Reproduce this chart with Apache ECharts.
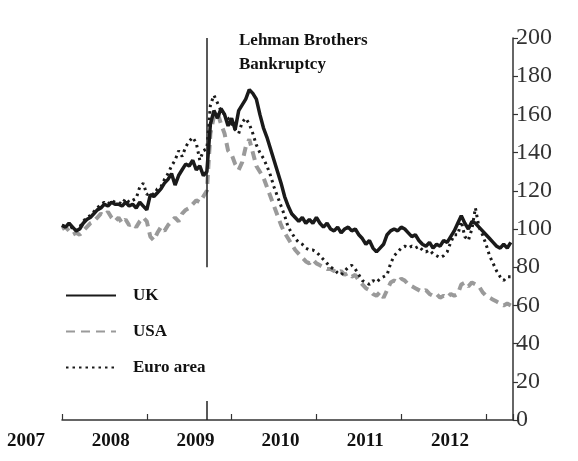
<!DOCTYPE html>
<html><head><meta charset="utf-8">
<script src="https://cdn.jsdelivr.net/npm/echarts@6/dist/echarts.min.js"></script>
<style>html,body{margin:0;padding:0;background:#fff}#c{width:578px;height:461px}</style>
</head><body><div id="c"></div>
<script>
// Half-monthly readings, Jan 2007 -> Apr 2012 (index 100 = start)
const ukValues = [102,101,103,101,99,100,103,105,106,108,110,111,113,112,114,113,113,112,114,112,
  113,111,114,112,110,118,117,119,121,124,126,129,123,128,131,134,133,136,131,133,
  128,130,155,162,158,163,160,154,158,152,162,165,168,173,171,168,160,153,148,142,
  136,130,124,117,112,108,106,104,106,103,105,103,106,103,101,103,100,99,101,98,
  100,101,99,100,97,95,92,94,90,88,90,92,97,99,100,99,101,100,98,96,
  97,94,92,91,93,90,92,91,94,93,96,99,103,107,103,100,104,103,101,99,
  97,95,93,91,90,92,90,93];
const usaValues = [100,101,99,97,98,97,99,101,103,104,106,108,107,109,106,104,106,103,105,102,
  103,101,104,106,104,96,94,98,101,99,102,104,106,104,108,110,111,113,115,114,
  117,120,150,159,161,155,150,141,139,134,131,135,143,147,140,133,130,127,122,117,
  112,107,102,98,95,92,89,87,85,83,82,84,82,81,80,79,79,78,77,78,
  76,77,75,76,73,71,69,68,66,65,67,64,68,72,73,72,74,73,71,70,
  69,68,67,68,66,65,66,64,65,64,66,65,66,71,72,70,72,71,70,67,
  65,64,63,62,61,60,61,60];
const euroValues = [102,101,103,100,99,101,104,106,107,109,111,113,114,113,115,114,114,113,116,114,
  115,116,122,124,118,119,118,121,122,126,129,133,136,141,138,143,146,148,145,136,
  141,142,165,170,166,162,160,158,155,152,150,156,158,155,150,144,140,137,133,128,
  122,117,112,107,101,98,95,93,92,90,89,89,88,86,84,82,80,79,77,76,
  78,80,81,79,76,73,72,71,73,72,74,75,76,82,86,88,90,91,90,91,
  90,91,89,88,89,87,86,85,86,88,93,97,97,104,96,94,100,111,101,97,
  92,86,82,78,75,73,75,75];
const yearLabels = [2007, 2008, 2009, 2010, 2011, 2012];
const lehmanDate = 2008.705;   // 15 Sep 2008
const yTicks = {min: 0, max: 200, step: 20};

const xOf = i => 2007 + i / 24;
const toPairs = arr => arr.map((v, i) => [xOf(i), v]);

const serif = 'Liberation Serif';
const chart = echarts.init(document.getElementById('c'), null, {renderer: 'canvas'});
chart.setOption({
  animation: false,
  backgroundColor: '#fff',
  grid: {left: 62, right: 65, top: 38, bottom: 41},
  title: {
    text: 'Lehman Brothers\nBankruptcy',
    left: 234, top: 24,
    textStyle: {fontFamily: serif, fontWeight: 'bold', fontSize: 17, color: '#111', lineHeight: 24}
  },
  legend: {
    data: ['UK', 'USA', 'Euro area'],
    orient: 'vertical', left: 60, top: 282,
    itemWidth: 50, itemHeight: 14, itemGap: 19,
    itemStyle: {opacity: 0},
    textStyle: {fontFamily: serif, fontWeight: 'bold', fontSize: 17, color: '#111', padding: [0, 0, 0, 12]}
  },
  xAxis: {
    type: 'value', min: 2007, max: 2012.318, interval: 1,
    splitLine: {show: false},
    axisLine: {lineStyle: {color: '#333', width: 1.5}},
    axisTick: {inside: true, length: 6, lineStyle: {color: '#333', width: 1.2}},
    axisLabel: {
      formatter: v => (yearLabels.indexOf(Math.round(v)) >= 0 && Math.abs(v - Math.round(v)) < 1e-6) ? String(Math.round(v)) : '',
      fontFamily: serif, fontWeight: 'bold', fontSize: 19, color: '#111',
      margin: 12, padding: [0, 72, 0, 0]
    }
  },
  yAxis: {
    type: 'value', position: 'right', min: yTicks.min, max: yTicks.max, interval: yTicks.step,
    splitLine: {show: false},
    axisLine: {show: true, lineStyle: {color: '#333', width: 1.5}},
    axisTick: {show: true, inside: false, length: 5, lineStyle: {color: '#333', width: 1.2}},
    axisLabel: {fontFamily: serif, fontSize: 24, color: '#333', margin: 3}
  },
  series: [
    {
      name: 'UK', type: 'line', symbol: 'none', data: toPairs(ukValues), z: 4,
      lineStyle: {color: '#1a1a1a', width: 3.5},
      itemStyle: {color: '#1a1a1a'},
      markLine: {
        silent: true, symbol: 'none', label: {show: false},
        lineStyle: {color: '#222', width: 1.5, type: 'solid'},
        data: [
          [{coord: [lehmanDate, 200]}, {coord: [lehmanDate, 80]}],
          [{coord: [lehmanDate, 0]}, {coord: [lehmanDate, 10]}]
        ]
      }
    },
    {
      name: 'USA', type: 'line', symbol: 'none', data: toPairs(usaValues), z: 2,
      lineStyle: {color: '#9a9a9a', width: 4, type: [9, 6]},
      itemStyle: {color: '#9a9a9a'}
    },
    {
      name: 'Euro area', type: 'line', symbol: 'none', data: toPairs(euroValues), z: 3,
      lineStyle: {color: '#1a1a1a', width: 3, type: [2.5, 4]},
      itemStyle: {color: '#1a1a1a'}
    }
  ]
});
</script></body></html>
